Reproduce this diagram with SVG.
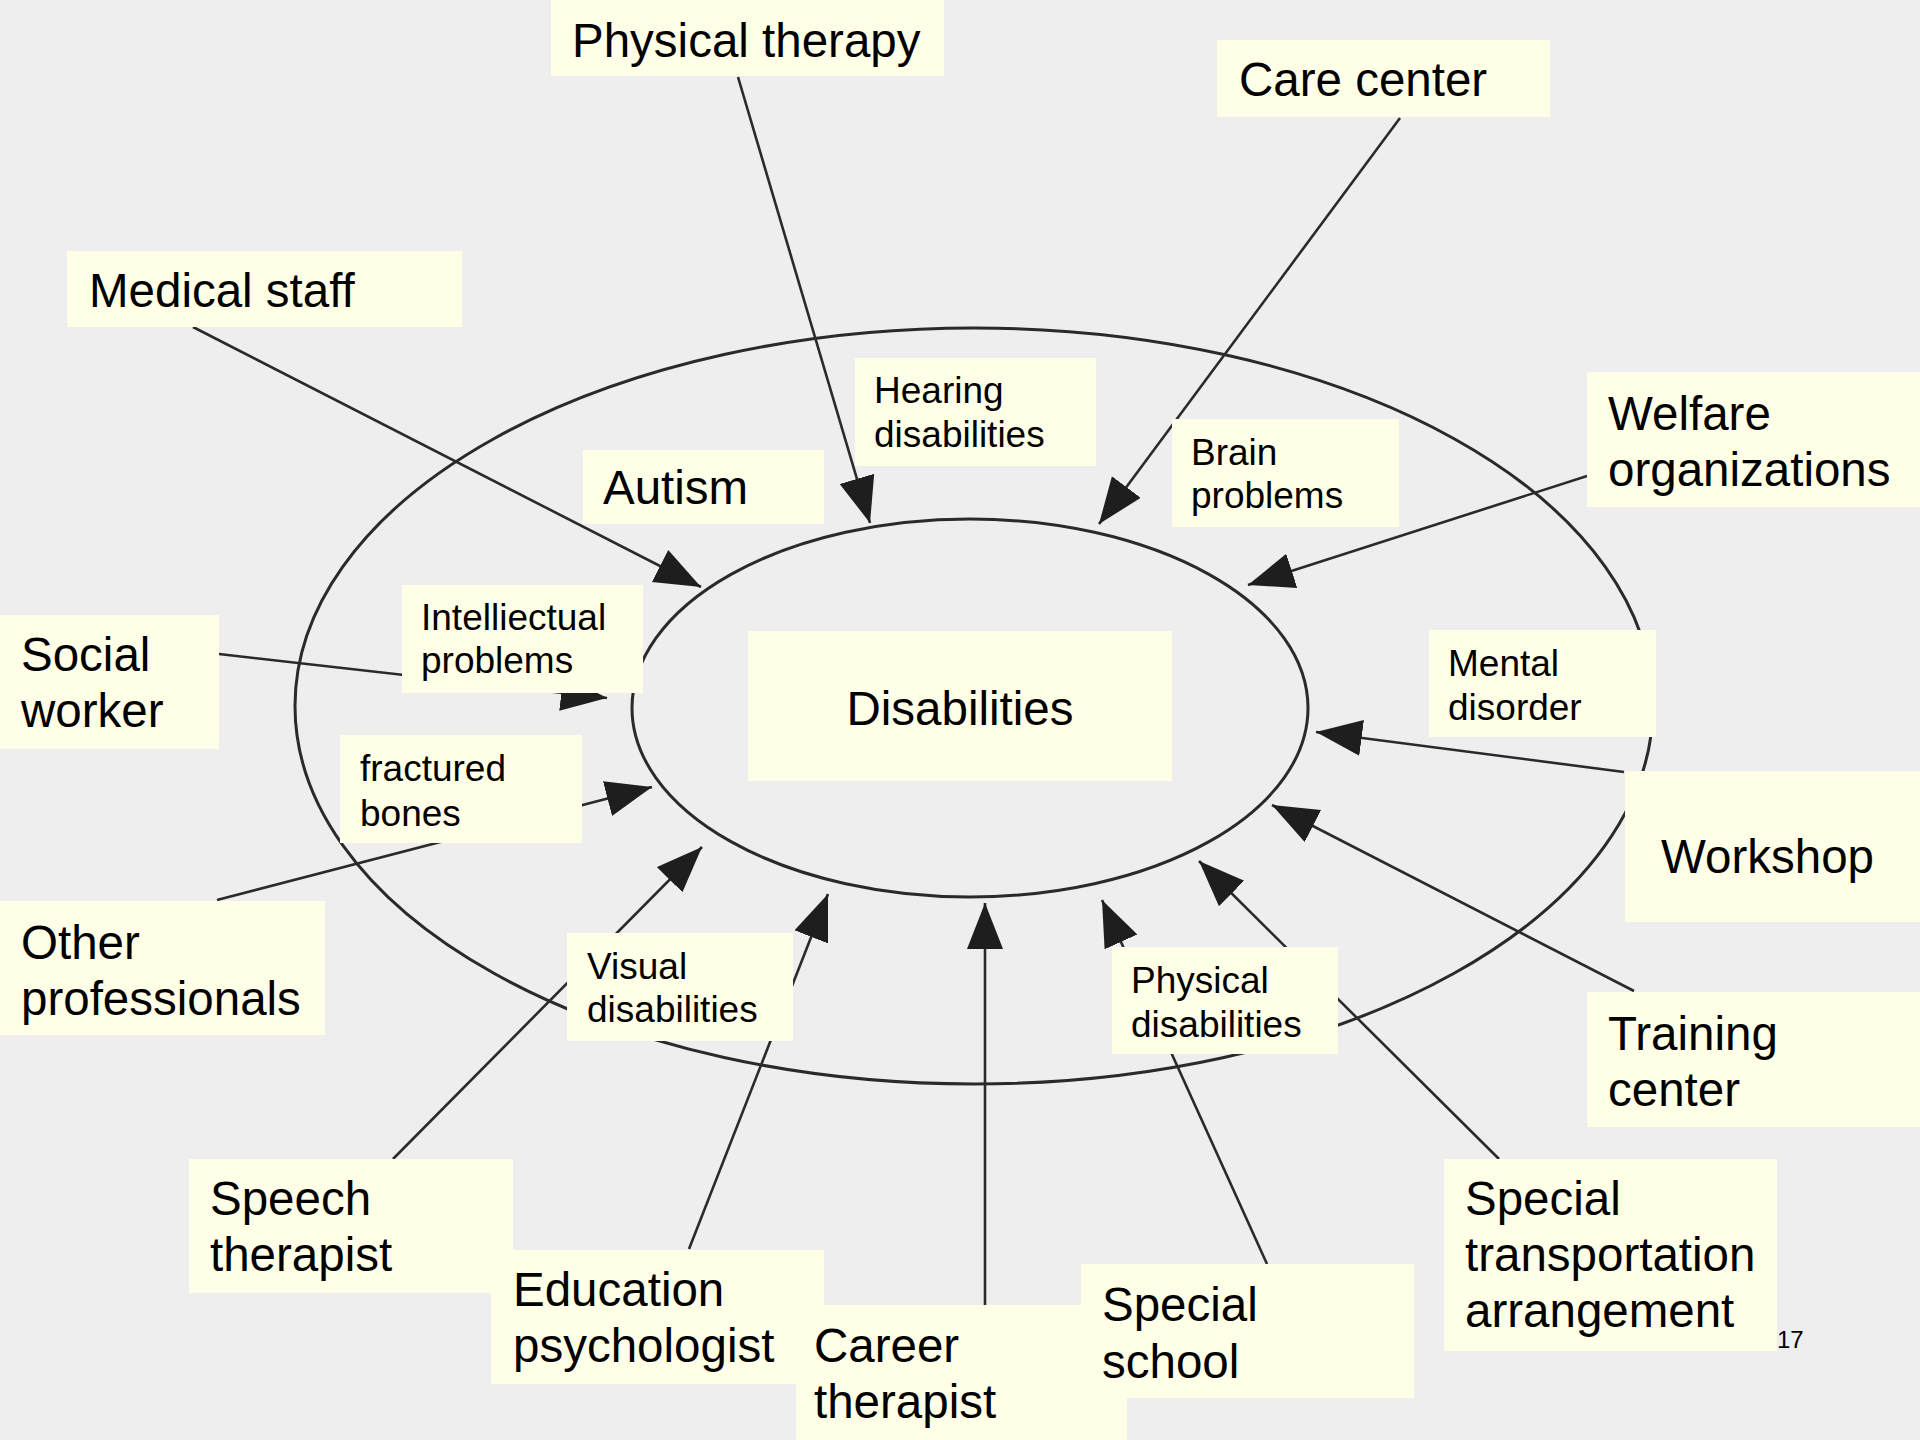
<svg xmlns="http://www.w3.org/2000/svg" width="1920" height="1440" viewBox="0 0 1920 1440">
<defs>
<marker id="ah" markerUnits="userSpaceOnUse" markerWidth="48" markerHeight="38" refX="46" refY="18" orient="auto" viewBox="0 0 48 38">
<path d="M0,0 L46,18 L0,36 z" fill="#1e1e1e"/>
</marker>
<style>
.box{fill:#fffee6;}
.big{font-family:"Liberation Sans",Arial,sans-serif;font-size:47.5px;fill:#000;}
.sm{font-family:"Liberation Sans",Arial,sans-serif;font-size:37px;fill:#000;}
.ring{fill:none;stroke:#2a2a2a;stroke-width:3;}
.conn line{stroke:#2a2a2a;stroke-width:2.6;marker-end:url(#ah);}
</style>
</defs>
<rect x="0" y="0" width="1920" height="1440" fill="#eeeeee"/>
<g id="rings">
<ellipse class="ring" cx="974" cy="706" rx="679" ry="378"/>
<ellipse class="ring" cx="970" cy="708" rx="338" ry="189"/>
</g>
<g id="connectors" class="conn">
<line x1="738" y1="77" x2="870" y2="523"/>
<line x1="1400" y1="118" x2="1099" y2="524"/>
<line x1="193" y1="327" x2="701" y2="587"/>
<line x1="1587" y1="476" x2="1248" y2="585"/>
<line x1="219" y1="654" x2="607" y2="698"/>
<line x1="217" y1="900" x2="652" y2="787"/>
<line x1="393" y1="1159" x2="702" y2="847"/>
<line x1="689" y1="1249" x2="828" y2="894"/>
<line x1="985" y1="1305" x2="985" y2="903"/>
<line x1="1267" y1="1264" x2="1102" y2="900"/>
<line x1="1499" y1="1159" x2="1199" y2="861"/>
<line x1="1634" y1="991" x2="1272" y2="805"/>
<line x1="1624" y1="772" x2="1316" y2="732"/>
</g>
<g id="physical-therapy"><rect class="box" x="551" y="0" width="393" height="76"/><text class="big" x="572" y="57">Physical therapy</text></g>
<g id="care-center"><rect class="box" x="1217" y="40" width="333" height="77"/><text class="big" x="1239" y="96">Care center</text></g>
<g id="medical-staff"><rect class="box" x="67" y="251" width="395" height="76"/><text class="big" x="89" y="307">Medical staff</text></g>
<g id="welfare"><rect class="box" x="1587" y="372" width="333" height="135"/><text class="big" x="1608" y="430">Welfare</text><text class="big" x="1608" y="486">organizations</text></g>
<g id="hearing"><rect class="box" x="855" y="358" width="241" height="108"/><text class="sm" x="874" y="403">Hearing</text><text class="sm" x="874" y="447">disabilities</text></g>
<g id="brain"><rect class="box" x="1172" y="419" width="227" height="108"/><text class="sm" x="1191" y="465">Brain</text><text class="sm" x="1191" y="508">problems</text></g>
<g id="autism"><rect class="box" x="583" y="450" width="241" height="74"/><text class="big" x="603" y="504">Autism</text></g>
<g id="intellectual"><rect class="box" x="402" y="585" width="241" height="108"/><text class="sm" x="421" y="630">Intelliectual</text><text class="sm" x="421" y="673">problems</text></g>
<g id="social-worker"><rect class="box" x="0" y="615" width="219" height="134"/><text class="big" x="21" y="671">Social</text><text class="big" x="21" y="727">worker</text></g>
<g id="fractured"><rect class="box" x="340" y="735" width="242" height="108"/><text class="sm" x="360" y="781">fractured</text><text class="sm" x="360" y="826">bones</text></g>
<g id="disabilities"><rect class="box" x="748" y="631" width="424" height="150"/><text class="big" x="960" y="725" text-anchor="middle">Disabilities</text></g>
<g id="other-professionals"><rect class="box" x="0" y="901" width="325" height="134"/><text class="big" x="21" y="959">Other</text><text class="big" x="21" y="1015">professionals</text></g>
<g id="visual"><rect class="box" x="567" y="933" width="226" height="108"/><text class="sm" x="587" y="979">Visual</text><text class="sm" x="587" y="1022">disabilities</text></g>
<g id="mental"><rect class="box" x="1429" y="630" width="227" height="107"/><text class="sm" x="1448" y="676">Mental</text><text class="sm" x="1448" y="720">disorder</text></g>
<g id="workshop"><rect class="box" x="1625" y="771" width="295" height="151"/><text class="big" x="1661" y="873">Workshop</text></g>
<g id="physical-disabilities"><rect class="box" x="1112" y="947" width="226" height="107"/><text class="sm" x="1131" y="993">Physical</text><text class="sm" x="1131" y="1037">disabilities</text></g>
<g id="training-center"><rect class="box" x="1587" y="992" width="333" height="135"/><text class="big" x="1608" y="1050">Training</text><text class="big" x="1608" y="1106">center</text></g>
<g id="speech-therapist"><rect class="box" x="189" y="1159" width="324" height="134"/><text class="big" x="210" y="1215">Speech</text><text class="big" x="210" y="1271">therapist</text></g>
<g id="education-psychologist"><rect class="box" x="491" y="1250" width="333" height="134"/><text class="big" x="513" y="1306">Education</text><text class="big" x="513" y="1362">psychologist</text></g>
<g id="career-therapist"><rect class="box" x="796" y="1305" width="331" height="135"/><text class="big" x="814" y="1362">Career</text><text class="big" x="814" y="1418">therapist</text></g>
<g id="special-school"><rect class="box" x="1081" y="1264" width="333" height="134"/><text class="big" x="1102" y="1321">Special</text><text class="big" x="1102" y="1378">school</text></g>
<g id="special-transport"><rect class="box" x="1444" y="1159" width="333" height="192"/><text class="big" x="1465" y="1215">Special</text><text class="big" x="1465" y="1271">transportation</text><text class="big" x="1465" y="1327">arrangement</text></g>
<text x="1777" y="1348" font-family="Liberation Sans, Arial, sans-serif" font-size="24" fill="#000">17</text>
</svg>
